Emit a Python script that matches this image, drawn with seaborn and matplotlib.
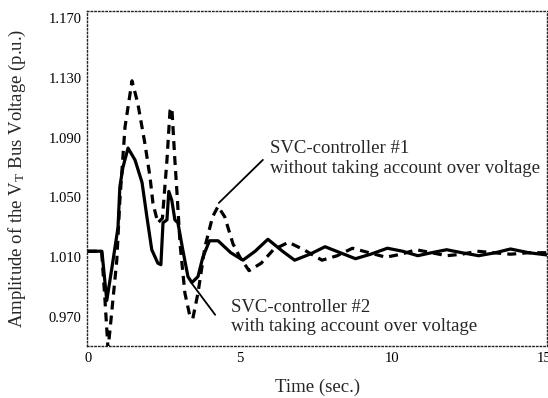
import numpy as np
import pandas as pd
import matplotlib
matplotlib.use("Agg")
import matplotlib.pyplot as plt
import seaborn as sns

# ---- data ----
t_svc1 = [0.0, 0.45, 0.55, 0.66, 0.72, 0.95, 1.05, 1.12, 1.22, 1.45, 1.64, 1.875, 2.04, 2.14, 2.30,
          2.45, 2.6, 2.7, 2.76, 2.86, 2.93, 3.03, 3.19, 3.36, 3.45, 3.62, 3.85, 4.1, 4.28, 4.5, 4.77,
          5.0, 5.3, 5.7, 6.1, 6.6, 7.1, 7.7, 8.2, 8.7, 9.25, 9.8, 10.3, 10.8, 11.3, 11.8, 12.3, 12.8,
          13.35, 13.9, 14.5, 15.1]
v_svc1 = [1.014, 1.014, 0.985, 0.949, 0.960, 1.008, 1.048, 1.068, 1.097, 1.128, 1.113, 1.086, 1.064,
          1.046, 1.033, 1.036, 1.075, 1.108, 1.110, 1.075, 1.053, 1.019, 0.986, 0.970, 0.969, 0.986,
          1.017, 1.037, 1.044, 1.037, 1.019, 1.010, 1.001, 1.006, 1.015, 1.020, 1.015, 1.008, 1.011,
          1.016, 1.013, 1.010, 1.012, 1.015, 1.013, 1.011, 1.012, 1.014, 1.013, 1.012, 1.013, 1.013]

t_svc2 = [0.0, 0.46, 0.62, 0.79, 0.99, 1.05, 1.15, 1.32, 1.55, 1.78, 1.94, 2.1, 2.3, 2.40, 2.47, 2.6,
          2.66, 2.76, 2.86, 2.96, 3.12, 3.29, 3.42, 3.62, 3.78, 4.0, 4.28, 4.7, 5.1, 5.5, 5.92, 6.4,
          6.8, 7.3, 7.8, 8.3, 8.8, 9.3, 9.85, 10.35, 10.85, 11.3, 11.8, 12.3, 12.85, 13.4, 13.9, 14.5,
          15.1]
v_svc2 = [1.014, 1.014, 0.981, 1.003, 1.030, 1.057, 1.070, 1.083, 1.075, 1.060, 1.037, 1.015, 1.006,
          1.005, 1.033, 1.035, 1.054, 1.048, 1.035, 1.033, 1.015, 0.997, 0.993, 0.997, 1.010, 1.021,
          1.021, 1.013, 1.008, 1.014, 1.022, 1.014, 1.008, 1.012, 1.017, 1.013, 1.009, 1.012, 1.016,
          1.014, 1.011, 1.013, 1.015, 1.013, 1.011, 1.013, 1.0155, 1.013, 1.0115]

y_ticks = [0.970, 1.010, 1.050, 1.090, 1.130, 1.170]
y_minor = [0.990, 1.030, 1.070, 1.110, 1.150]
x_ticks = [0, 5, 10, 15]

label_svc1 = "SVC-controller #1\nwithout taking account over voltage"
label_svc2 = "SVC-controller #2\nwith taking account over voltage"
x_label = "Time (sec.)"
y_label = r"Amplitude of the V$_{\mathrm{T}}$ Bus Voltage (p.u.)"

# ---- style ----
sns.set_theme(style="white")
plt.rcParams["font.family"] = ["Liberation Serif", "DejaVu Serif"]
plt.rcParams["mathtext.fontset"] = "custom"
plt.rcParams["mathtext.rm"] = "Liberation Serif"
plt.rcParams["mathtext.it"] = "Liberation Serif:italic"
plt.rcParams["mathtext.bf"] = "Liberation Serif:bold"

W, H = 548, 398
fig = plt.figure(figsize=(W / 100, H / 100), dpi=100)
ax = fig.add_axes([87 / W, 1 - 346 / H, 460 / W, 335 / H])

df1 = pd.DataFrame({"t": t_svc1, "v": v_svc1})
df2 = pd.DataFrame({"t": t_svc2, "v": v_svc2})

sns.lineplot(data=df2, x="t", y="v", ax=ax, color="black", lw=2.3, sort=False,
             estimator=None, solid_joinstyle="round", solid_capstyle="round")
sns.lineplot(data=df1, x="t", y="v", ax=ax, color="black", lw=2.3, sort=False,
             estimator=None, linestyle=(0, (2.8, 1.9)))

ax.set_xlim(-0.03, 15.1)
ax.set_ylim(0.9506, 1.1747)

ax.set_xticks(x_ticks)
ax.set_xticklabels([str(v) for v in x_ticks])
ax.set_yticks(y_ticks)
ax.set_yticklabels([f"{v:.3f}" for v in y_ticks])
ax.set_yticks(y_minor, minor=True)

ax.tick_params(axis="both", which="both", direction="in", length=3, width=0.8,
               colors="black", labelsize=10.5, pad=4)
ax.tick_params(axis="both", which="minor", length=2)

for s in ax.spines.values():
    s.set_linestyle(":")
    s.set_linewidth(1.0)
    s.set_color("#222222")
    s.set_visible(True)

ax.set_xlabel(x_label, fontsize=13.5)
ax.set_ylabel(y_label, fontsize=13.5)
ax.xaxis.set_label_coords(0.502, -0.122)
ax.xaxis.label.set_va("center")
ax.yaxis.set_label_coords(-0.152, 0.5)
ax.yaxis.label.set_va("center")

# annotations
ax.text(5.99, 1.076, label_svc1, ha="left", va="center", fontsize=13.5, linespacing=1.2)
ax.annotate("", xy=(4.24, 1.045), xytext=(5.82, 1.0764),
            arrowprops=dict(arrowstyle="-", lw=1.3, color="black"))
ax.text(4.70, 0.970, label_svc2, ha="left", va="center", fontsize=13.5, linespacing=1.2)
ax.annotate("", xy=(3.36, 0.994), xytext=(4.24, 0.970),
            arrowprops=dict(arrowstyle="-", lw=1.3, color="black"))

fig.savefig("out.png", dpi=100)
